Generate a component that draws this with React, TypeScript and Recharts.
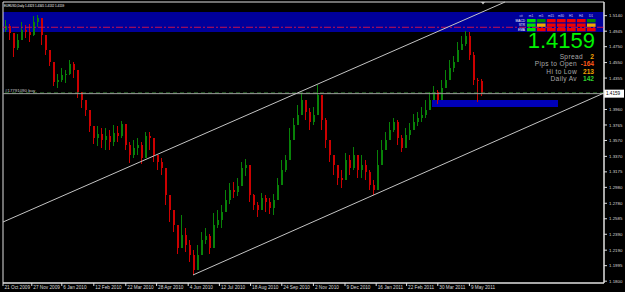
import { ComposedChart, Bar, XAxis, YAxis, ReferenceArea, ReferenceLine } from 'recharts';

// EURUSD daily, grouped 4 sessions per candle
const closes = [
  1.5010, 1.4922, 1.4733, 1.4834, 1.4960, 1.4934, 1.4897, 1.5060, 1.5111, 1.4897,
  1.4708, 1.4557, 1.4305, 1.4331, 1.4394, 1.4406, 1.4532, 1.4456, 1.4180, 1.4079,
  1.3953, 1.3752, 1.3601, 1.3651, 1.3576, 1.3626, 1.3551, 1.3664, 1.3626, 1.3777,
  1.3513, 1.3387, 1.3475, 1.3513, 1.3349, 1.3626, 1.3601, 1.3387, 1.3299, 1.3224,
  1.2884, 1.2695, 1.2507, 1.2217, 1.2381, 1.2255, 1.2129, 1.1940, 1.2129, 1.2318,
  1.2368, 1.2217, 1.2507, 1.2569, 1.2670, 1.2821, 1.2947, 1.2922, 1.2997, 1.3224,
  1.3261, 1.2884, 1.2758, 1.2695, 1.2846, 1.2796, 1.2720, 1.2821, 1.3010, 1.3198,
  1.3324, 1.3576, 1.3765, 1.3890, 1.4079, 1.3928, 1.3802, 1.3890, 1.4142, 1.3827,
  1.3576, 1.3387, 1.3261, 1.3098, 1.3073, 1.3324, 1.3224, 1.3387, 1.3198, 1.3261,
  1.3173, 1.3010, 1.2947, 1.3261, 1.3450, 1.3576, 1.3702, 1.3802, 1.3601, 1.3475,
  1.3639, 1.3702, 1.3802, 1.3853, 1.3890, 1.3953, 1.4079, 1.4180, 1.4079, 1.4230,
  1.4331, 1.4482, 1.4557, 1.4708, 1.4784, 1.4884, 1.4645, 1.4331, 1.4323, 1.4159,
];
const highs = [
  1.5085, 1.5035, 1.4884, 1.4909, 1.5060, 1.5022, 1.5035, 1.5136, 1.5148, 1.5085,
  1.4859, 1.4708, 1.4519, 1.4406, 1.4482, 1.4456, 1.4582, 1.4557, 1.4431, 1.4180,
  1.4054, 1.3953, 1.3752, 1.3752, 1.3727, 1.3727, 1.3702, 1.3765, 1.3752, 1.3815,
  1.3777, 1.3551, 1.3576, 1.3601, 1.3551, 1.3676, 1.3676, 1.3513, 1.3387, 1.3349,
  1.3198, 1.2846, 1.2632, 1.2469, 1.2632, 1.2469, 1.2318, 1.2192, 1.2255, 1.2419,
  1.2469, 1.2393, 1.2657, 1.2695, 1.2758, 1.2947, 1.3035, 1.3047, 1.3098, 1.3299,
  1.3337, 1.3224, 1.2896, 1.2796, 1.2909, 1.2884, 1.2846, 1.2896, 1.3098, 1.3324,
  1.3387, 1.3727, 1.3853, 1.4016, 1.4167, 1.4079, 1.3978, 1.3991, 1.4268, 1.4142,
  1.3853, 1.3576, 1.3387, 1.3261, 1.3198, 1.3412, 1.3387, 1.3488, 1.3349, 1.3387,
  1.3324, 1.3198, 1.3073, 1.3450, 1.3576, 1.3676, 1.3802, 1.3853, 1.3827, 1.3639,
  1.3727, 1.3790, 1.3903, 1.3928, 1.3991, 1.4079, 1.4180, 1.4255, 1.4205, 1.4331,
  1.4456, 1.4582, 1.4633, 1.4809, 1.4884, 1.4947, 1.4934, 1.4683, 1.4356, 1.4345,
];
const lows = [
  1.4934, 1.4834, 1.4620, 1.4708, 1.4834, 1.4859, 1.4809, 1.4884, 1.4997, 1.4771,
  1.4645, 1.4507, 1.4255, 1.4230, 1.4305, 1.4293, 1.4394, 1.4356, 1.4104, 1.3978,
  1.3878, 1.3676, 1.3525, 1.3500, 1.3475, 1.3450, 1.3450, 1.3500, 1.3551, 1.3601,
  1.3450, 1.3286, 1.3349, 1.3387, 1.3274, 1.3475, 1.3450, 1.3299, 1.3198, 1.3136,
  1.2758, 1.2544, 1.2419, 1.2142, 1.2293, 1.2167, 1.2041, 1.1878, 1.2041, 1.2192,
  1.2268, 1.2142, 1.2318, 1.2469, 1.2469, 1.2695, 1.2771, 1.2846, 1.2871, 1.3073,
  1.3123, 1.2796, 1.2695, 1.2607, 1.2695, 1.2670, 1.2645, 1.2632, 1.2821, 1.3010,
  1.3173, 1.3450, 1.3576, 1.3765, 1.3953, 1.3827, 1.3702, 1.3765, 1.3953, 1.3702,
  1.3475, 1.3299, 1.3136, 1.3010, 1.2972, 1.3173, 1.3136, 1.3198, 1.3098, 1.3098,
  1.3073, 1.2947, 1.2884, 1.2972, 1.3261, 1.3450, 1.3576, 1.3676, 1.3513, 1.3425,
  1.3513, 1.3576, 1.3702, 1.3752, 1.3802, 1.3853, 1.3978, 1.4104, 1.4029, 1.4142,
  1.4230, 1.4356, 1.4431, 1.4607, 1.4708, 1.4758, 1.4582, 1.4268, 1.4054, 1.4132,
];
const firstOpen = 1.4960;

const dateTicks = [-0.5, 6.7, 14.2, 22.2, 30.2, 37.9, 45.8, 53.6, 61.4, 69.2, 77.1, 85.0, 92.8, 100.4, 108.2, 116.1];
const dateLabels = [
  '21 Oct 2009', '27 Nov 2009', '6 Jan 2010', '12 Feb 2010', '22 Mar 2010', '28 Apr 2010',
  '4 Jun 2010', '12 Jul 2010', '18 Aug 2010', '24 Sep 2010', '2 Nov 2010', '9 Dec 2010',
  '16 Jan 2011', '22 Feb 2011', '30 Mar 2011', '9 May 2011',
];
const priceTicks = [
  1.5140, 1.4945, 1.4750, 1.4550, 1.4355, 1.3960, 1.3765, 1.3570, 1.3370,
  1.3175, 1.2980, 1.2780, 1.2585, 1.2390, 1.2190, 1.1995, 1.1800,
];

const bid = 1.4159;
const orderPrice = 1.4168;
const orderLabel = '#17791090 buy';
const levelPrice = 1.4994;
const band = { y1: 1.4934, y2: 1.5186 };
const zone = { x1: 106.75, x2: 138.25, y1: 1.3991, y2: 1.4079 };
const upperChannel = [{ x: -0.5, y: 1.2544 }, { x: 125, y: 1.5312 }];
const lowerChannel = [{ x: 47, y: 1.1878 }, { x: 149.75, y: 1.4167 }];

const title = 'EURUSD,Daily  1.4323 1.4345 1.4132 1.4159';
const tfHeader = ['cit', 'm1', 'm5', 'm15', 'm30', 'H1', 'H4', 'D1'];
const indNames = ['MACD', 'STR', 'EMA'];
const indCells = [
  ['lime', 'green', 'red', 'red', 'red', 'red', 'green'],
  ['lime', 'orange', 'red', 'red', 'red', 'red', 'orange'],
  ['lime', 'red', 'red', 'red', 'red', 'red', 'red'],
];
const infoRows = [
  { label: 'Spread', value: '2', color: '#f0a000', end: 583 },
  { label: 'Pips to Open', value: '-164', color: '#ff5a1a', end: 577 },
  { label: 'Hi to Low', value: '213', color: '#f0a000', end: 577 },
  { label: 'Daily Av', value: '142', color: '#2ed02e', end: 577 },
];

const X_DOMAIN = [-0.5, 149.75];
const Y_DOMAIN = [1.1777, 1.5312];
const UP = '#088208';
const DOWN = '#cc0000';
const CELL: Record<string, string> = { lime: '#00e000', green: '#008a00', red: '#f00000', orange: '#f0a800' };
const FONT = '"Liberation Sans", Arial, sans-serif';

const candles = closes.map((c, i) => {
  const o = i === 0 ? firstOpen : closes[i - 1];
  return { i, open: o, close: c, high: Math.max(highs[i], o, c), low: Math.min(lows[i], o, c) };
});

function Candle(props: any) {
  const { x, y, width, height, payload } = props;
  if (!payload || height == null) return null;
  const top = Math.min(y, y + height);
  const h = Math.abs(height);
  const span = payload.high - payload.low || 1;
  const yOf = (v: number) => top + ((payload.high - v) / span) * h;
  const color = payload.close >= payload.open ? UP : DOWN;
  const cx = Math.round(x + width / 2);
  const bTop = yOf(Math.max(payload.open, payload.close));
  const bBot = yOf(Math.min(payload.open, payload.close));
  return (
    <g shapeRendering="crispEdges">
      <line x1={cx + 0.5} x2={cx + 0.5} y1={top} y2={top + h} stroke={color} strokeWidth={1} />
      <rect x={cx - 0.5} y={bTop} width={2} height={Math.max(1, bBot - bTop)} fill={color} />
    </g>
  );
}

function DateTick(props: any) {
  const { x, y, payload } = props;
  const idx = dateTicks.indexOf(payload.value);
  return (
    <text x={x + 1.5} y={y + 3} fill="#d8d8d8" fontSize={4.7} fontFamily={FONT} textAnchor="start">
      {dateLabels[idx]}
    </text>
  );
}

function PriceTick(props: any) {
  const { x, y, payload } = props;
  return (
    <text x={x} y={y + 1.6} fill="#d8d8d8" fontSize={4.4} fontFamily={FONT} textAnchor="start">
      {Number(payload.value).toFixed(4)}
    </text>
  );
}

function BidBox(props: any) {
  const vb = props.viewBox;
  if (!vb) return null;
  const right = vb.x + vb.width;
  return (
    <g>
      <rect x={right} y={vb.y - 4} width={20} height={8} fill="#ffffff" />
      <text x={right + 2} y={vb.y + 1.7} fontSize={4.6} fill="#000" fontFamily={FONT}>{bid.toFixed(4)}</text>
    </g>
  );
}

function OrderTag(props: any) {
  const vb = props.viewBox;
  if (!vb) return null;
  return (
    <text x={vb.x + 2} y={vb.y - 1.3} fontSize={4.4} fill="#c8c8c8" fontFamily={FONT}>{orderLabel}</text>
  );
}

function Overlay() {
  return (
    <svg width={625} height={292} style={{ position: 'absolute', left: 0, top: 0, pointerEvents: 'none' }}>
      <text x={4} y={7.3} fontSize={3} fill="#ffffff" fontFamily={FONT}>{title}</text>
      <polygon points="481,2 485,2 483,4.5" fill="#c8c8c8" />
      {tfHeader.map((t, j) => (
        <text key={t} x={j === 0 ? 521 : 531 + (j - 1) * 10} y={17} fontSize={3.2} fill="#d0d0ff" fontFamily={FONT} textAnchor="middle">{t}</text>
      ))}
      {indNames.map((n, r) => (
        <g key={n}>
          <text x={525} y={21.9 + r * 4.5} fontSize={3.2} fill="#ffffff" fontFamily={FONT} textAnchor="end">{n}</text>
          {indCells[r].map((c, j) => (
            <rect key={j} x={527 + j * 10} y={19 + r * 4.5} width={8.6} height={3.3} fill={CELL[c]} />
          ))}
        </g>
      ))}
      <text x={595} y={48} fontSize={22} fill="#00f400" fontFamily={FONT} textAnchor="end">{bid.toFixed(4)}</text>
      {infoRows.map((row, r) => (
        <g key={row.label}>
          <text x={row.end} y={58.8 + r * 7.4} fontSize={6.6} letterSpacing={0.35} fill="#a8a8a8" fontFamily={FONT} textAnchor="end">{row.label}</text>
          <text x={594} y={58.8 + r * 7.4} fontSize={6.6} fontWeight="bold" fill={row.color} fontFamily={FONT} textAnchor="end">{row.value}</text>
        </g>
      ))}
    </svg>
  );
}

export default function App() {
  return (
    <div style={{ position: 'absolute', left: 0, top: 0, width: 625, height: 292, background: '#000' }}>
      <ComposedChart width={625} height={292} data={candles} margin={{ top: 2, right: 0, bottom: 0, left: 3 }}>
        <XAxis
          type="number"
          dataKey="i"
          domain={X_DOMAIN}
          allowDataOverflow
          ticks={dateTicks}
          interval={0}
          height={9}
          stroke="#e0e0e0"
          tickSize={3}
          tickMargin={0}
          tick={<DateTick />}
        />
        <YAxis
          orientation="right"
          type="number"
          domain={Y_DOMAIN}
          allowDataOverflow
          ticks={priceTicks}
          interval={0}
          width={21}
          stroke="#e0e0e0"
          tickSize={3}
          tickMargin={2}
          tick={<PriceTick />}
        />
        <ReferenceArea y1={band.y1} y2={band.y2} fill="#00009a" fillOpacity={1} stroke="none" ifOverflow="hidden" />
        <ReferenceArea x1={zone.x1} x2={zone.x2} y1={zone.y1} y2={zone.y2} fill="#0000b8" fillOpacity={1} stroke="none" />
        <ReferenceLine y={levelPrice} stroke="#c8104f" strokeDasharray="7 2 2 2" />
        <Bar dataKey={(d: any) => [d.low, d.high]} barSize={3} isAnimationActive={false} shape={(p: any) => <Candle {...p} />} />
        <ReferenceLine y={orderPrice} stroke="#2f7a2f" strokeDasharray="4 3" label={<OrderTag />} />
        <ReferenceLine y={bid} stroke="#9c9c9c" label={<BidBox />} />
        <ReferenceLine segment={upperChannel} stroke="#c4c4c4" ifOverflow="visible" />
        <ReferenceLine segment={lowerChannel} stroke="#c4c4c4" ifOverflow="visible" />
        <ReferenceArea x1={X_DOMAIN[0]} x2={X_DOMAIN[1]} y1={Y_DOMAIN[0]} y2={Y_DOMAIN[1]} fill="none" stroke="#e0e0e0" />
      </ComposedChart>
      <Overlay />
    </div>
  );
}
